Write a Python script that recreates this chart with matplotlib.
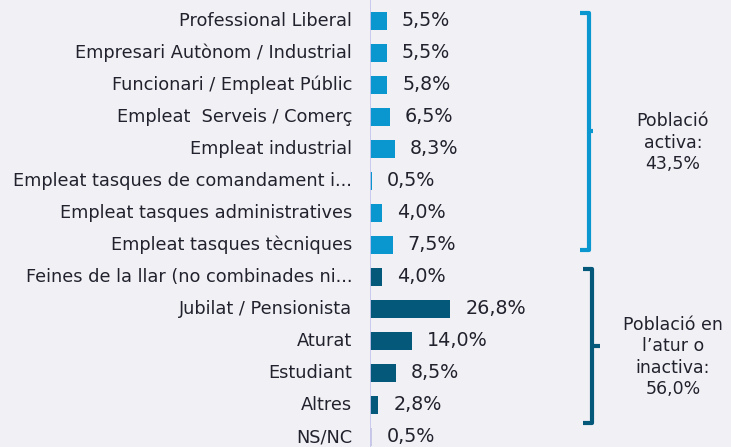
import numpy as np
import matplotlib.pyplot as plt

categories = [
    "Professional Liberal",
    "Empresari Autònom / Industrial",
    "Funcionari / Empleat Públic",
    "Empleat  Serveis / Comerç",
    "Empleat industrial",
    "Empleat tasques de comandament i...",
    "Empleat tasques administratives",
    "Empleat tasques tècniques",
    "Feines de la llar (no combinades ni...",
    "Jubilat / Pensionista",
    "Aturat",
    "Estudiant",
    "Altres",
    "NS/NC",
]
values = [5.5, 5.5, 5.8, 6.5, 8.3, 0.5, 4.0, 7.5, 4.0, 26.8, 14.0, 8.5, 2.8, 0.5]
groups = ["activa"] * 8 + ["inactiva"] * 5 + ["nsnc"]

group_colors = {"activa": "#0a96cf", "inactiva": "#04587a", "nsnc": "#c9c9e6"}
group_text = {
    "activa": "Població\nactiva:\n43,5%",
    "inactiva": "Població en\nl’atur o\ninactiva:\n56,0%",
}

bg = "#f1f1f5"
txt = "#22222e"
plt.rcParams['font.family'] = ['DejaVu Sans']

W, H = 731, 447
fig = plt.figure(figsize=(W / 100, H / 100), dpi=100, facecolor=bg)
x0 = 370
ax = fig.add_axes([x0 / W, 0, 1 - x0 / W, 1])
ax.set_facecolor(bg)

px = 3.0  # pixels per percent
ax.set_xlim(0, (W - x0) / px)
row_h, first = 32.0, 21.0
ax.set_ylim((H - first) / row_h, -first / row_h)

y = np.arange(len(categories))
ax.barh(y, values, height=0.56, color=[group_colors[g] for g in groups])

for yi, v in zip(y, values):
    ax.text(v + 15 / px, yi, f"{v:.1f}%".replace(".", ","), va="center",
            ha="left", fontsize=13.8, color=txt)
for yi, c in zip(y, categories):
    ax.text(-18 / px, yi, c, va="center", ha="right", fontsize=12.8,
            color=txt, clip_on=False)

for s in ax.spines.values():
    s.set_visible(False)
ax.axvline(-0.3, color="#c6c6ee", lw=2)
ax.set_xticks([])
ax.set_yticks([])

# braces
def brace(y_top, y_bot, xpix, col, nub):
    xb = (xpix - x0) / px
    hook = 9 / px
    ax.plot([xb - hook, xb, xb, xb - hook], [y_top, y_top, y_bot, y_bot],
            color=col, lw=3, solid_capstyle="butt", solid_joinstyle="round",
            clip_on=False)
    ym = (y_top + y_bot) / 2
    ax.plot([xb, xb + nub / px], [ym, ym], color=col, lw=3,
            solid_capstyle="butt", clip_on=False)

brace(-0.25, 7.15, 589, group_colors["activa"], 4)
brace(7.75, 12.55, 592, group_colors["inactiva"], 8)

ax.text((673 - x0) / px, 3.8, group_text["activa"], ha="center", va="center",
        fontsize=12.5, color=txt, linespacing=1.25)
ax.text((673 - x0) / px, 10.5, group_text["inactiva"], ha="center",
        va="center", fontsize=12.5, color=txt, linespacing=1.25)

fig.savefig("out.png", dpi=100, facecolor=bg)
